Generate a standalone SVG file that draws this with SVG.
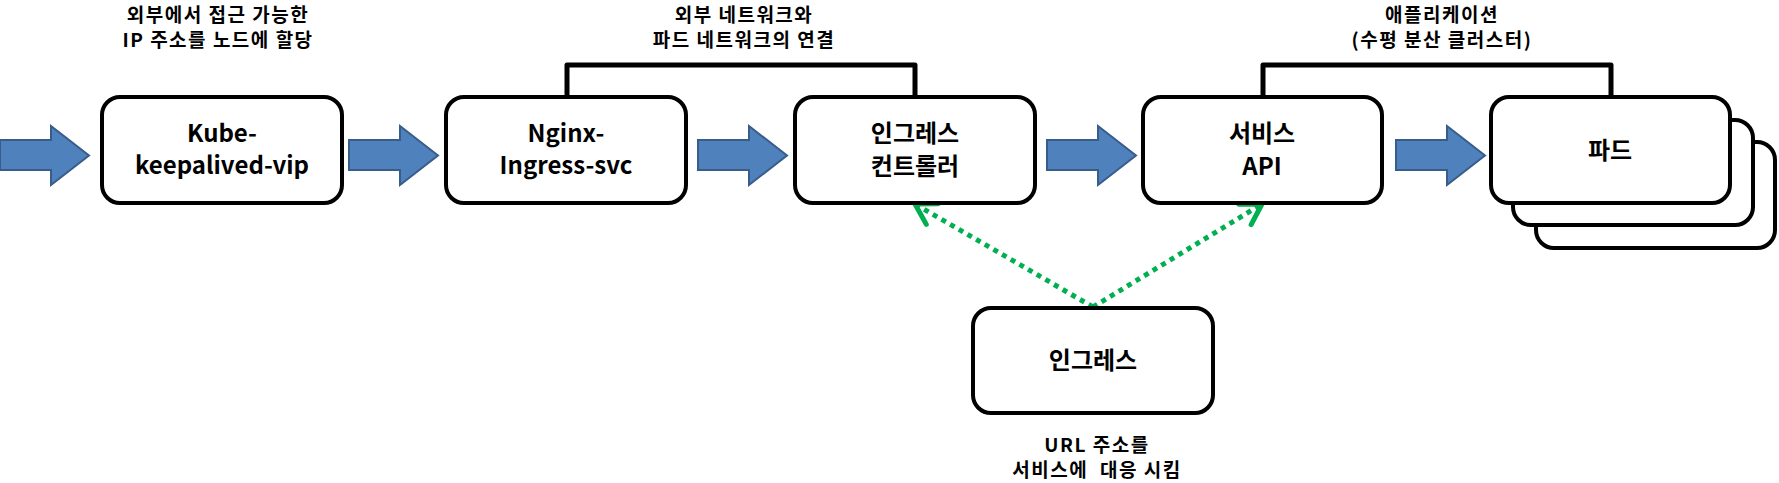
<svg xmlns="http://www.w3.org/2000/svg" width="1779" height="483" viewBox="0 0 1779 483">
<style>
.box{fill:#fff;stroke:#000;stroke-width:4}
.t{font-family:"Noto Sans CJK KR","Noto Sans",sans-serif;font-weight:bold;fill:#000;text-anchor:middle;white-space:pre}
.n{font-size:24px}
.c{font-size:19px;letter-spacing:1.5px}
.arr{fill:#4F81BD;stroke:#385D8A;stroke-width:2}
.br{fill:none;stroke:#000;stroke-width:5;stroke-linejoin:round}
.dot{fill:none;stroke:#00B050;stroke-width:5;stroke-dasharray:5 5}
</style>
<defs>
<marker id="oa" markerUnits="userSpaceOnUse" viewBox="-30 -20 40 40" markerWidth="40" markerHeight="40" refX="0" refY="0" orient="auto" overflow="visible">
<path d="M-20,-12 L0,0 L-20,12" fill="none" stroke="#00B050" stroke-width="5" stroke-linecap="round" stroke-linejoin="round"/>
</marker>
<path id="bigarrow" d="M0,140 H51 V126 L89,155.5 L51,185 V170 H0 Z"/>
</defs>
<g id="captions">
<text class="t c" x="218" y="22">외부에서 접근 가능한</text>
<text class="t c" x="218" y="47">IP 주소를 노드에 할당</text>
<text class="t c" x="744" y="22">외부 네트워크와</text>
<text class="t c" x="744" y="47">파드 네트워크의 연결</text>
<text class="t c" x="1442" y="22">애플리케이션</text>
<text class="t c" x="1442" y="47">(수평 분산 클러스터)</text>
<text class="t c" x="1097" y="452">URL 주소를</text>
<text class="t c" x="1097" y="477" xml:space="preserve">서비스에  대응 시킴</text>
</g>
<g id="connectors">
<use href="#bigarrow" class="arr" x="0"/>
<use href="#bigarrow" class="arr" x="349"/>
<use href="#bigarrow" class="arr" x="698"/>
<use href="#bigarrow" class="arr" x="1047"/>
<use href="#bigarrow" class="arr" x="1396"/>
<path class="br" d="M567,97 V65 H915 V97"/>
<path class="br" d="M1263,97 V65 H1611 V97"/>
<path class="dot" d="M1093,307 L915,204" marker-end="url(#oa)"/>
<path class="dot" d="M1093,307 L1262,204" marker-end="url(#oa)"/>
</g>
<g id="kube-keepalived-vip">
<rect class="box" x="102" y="97" width="240" height="106" rx="18"/>
<text class="t n" x="222" y="142">Kube-</text>
<text class="t n" x="222" y="174">keepalived-vip</text>
</g>
<g id="nginx-ingress-svc">
<rect class="box" x="446" y="97" width="240" height="106" rx="18"/>
<text class="t n" x="566" y="142">Nginx-</text>
<text class="t n" x="566" y="174">Ingress-svc</text>
</g>
<g id="ingress-controller">
<rect class="box" x="795" y="97" width="240" height="106" rx="18"/>
<text class="t n" x="915" y="142">인그레스</text>
<text class="t n" x="915" y="175">컨트롤러</text>
</g>
<g id="service-api">
<rect class="box" x="1143" y="97" width="239" height="106" rx="18"/>
<text class="t n" x="1262" y="142">서비스</text>
<text class="t n" x="1262" y="175">API</text>
</g>
<g id="pods">
<rect class="box" x="1536" y="142" width="239" height="106" rx="18"/>
<rect class="box" x="1513" y="120" width="240" height="105" rx="18"/>
<rect class="box" x="1491" y="97" width="239" height="106" rx="18"/>
<text class="t n" x="1610" y="159">파드</text>
</g>
<g id="ingress">
<rect class="box" x="973" y="308" width="240" height="105" rx="18"/>
<text class="t n" x="1093" y="369">인그레스</text>
</g>
</svg>
